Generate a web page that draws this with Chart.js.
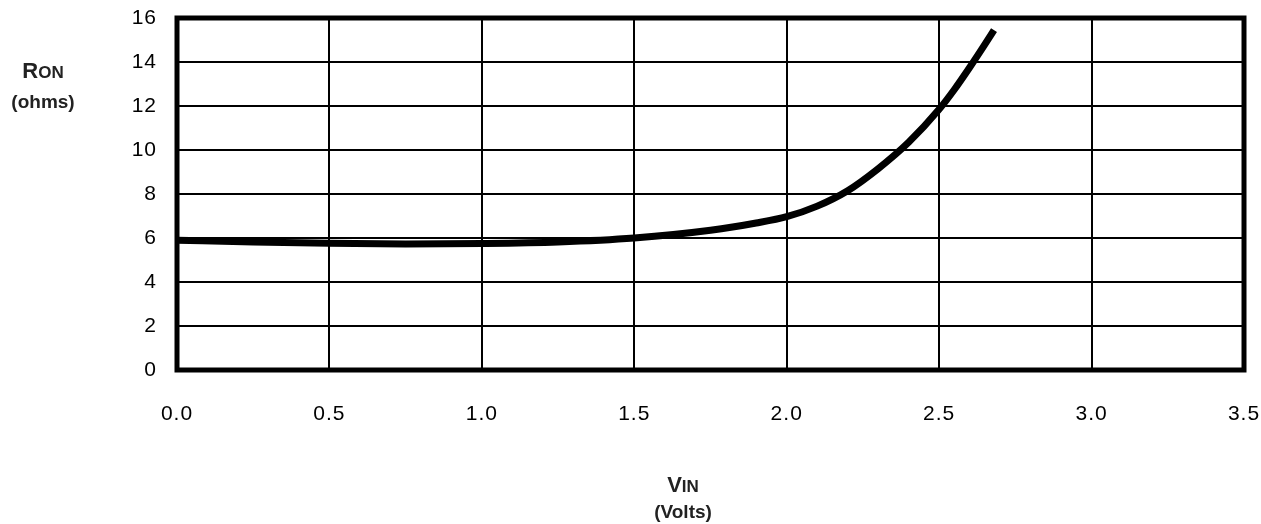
<!DOCTYPE html>
<html>
<head>
<meta charset="utf-8">
<script src="https://cdn.jsdelivr.net/npm/chart.js@4"></script>
<style>
  html, body { margin: 0; padding: 0; background: #fff; }
  #wrap { width: 1261px; height: 524px; }
</style>
</head>
<body>
<div id="wrap"><canvas id="chart"></canvas></div>
<script>
// Ron vs Vin
const vinVolts = [0, 0.25, 0.5, 0.75, 1.0, 1.25, 1.5, 1.75, 1.9, 2.0, 2.1, 2.2, 2.3, 2.4, 2.5, 2.55, 2.6, 2.65, 2.68];
const ronOhms  = [5.9, 5.82, 5.76, 5.73, 5.75, 5.82, 6.0, 6.35, 6.68, 6.97, 7.45, 8.15, 9.15, 10.35, 11.85, 12.75, 13.75, 14.8, 15.45];
const xTicks = [0, 0.5, 1.0, 1.5, 2.0, 2.5, 3.0, 3.5];
const yTicks = [0, 2, 4, 6, 8, 10, 12, 14, 16];

const TICK_FONT = { family: '"Liberation Sans", Arial, sans-serif', size: 21 };
const TITLE_FAMILY = '"Liberation Sans Narrow", "Liberation Sans", Arial, sans-serif';

function setSpacing(chart, v) {
  if ("letterSpacing" in chart.ctx) chart.ctx.letterSpacing = v;
}

// R<sub-caps>ON и V<sub-caps>IN: первая буква крупнее
function drawCapsTitle(ctx, big, small, cx, baseline) {
  ctx.font = "bold 22px " + TITLE_FAMILY;
  const w1 = ctx.measureText(big).width;
  ctx.font = "bold 17px " + TITLE_FAMILY;
  const w2 = ctx.measureText(small).width;
  let x = cx - (w1 + w2) / 2;
  ctx.textAlign = "left";
  ctx.textBaseline = "alphabetic";
  ctx.font = "bold 22px " + TITLE_FAMILY;
  ctx.fillText(big, x, baseline);
  ctx.font = "bold 17px " + TITLE_FAMILY;
  ctx.fillText(small, x + w1, baseline);
}

const framePlugin = {
  id: "frame",
  beforeLayout(chart) { setSpacing(chart, "1px"); },
  beforeDraw(chart) { setSpacing(chart, "1px"); },
  afterDraw(chart) {
    const { ctx, chartArea: a } = chart;
    ctx.save();
    setSpacing(chart, "0px");
    ctx.strokeStyle = "#000";
    ctx.lineWidth = 5;
    ctx.strokeRect(a.left, a.top, a.right - a.left, a.bottom - a.top);

    ctx.fillStyle = "#222";
    drawCapsTitle(ctx, "R", "ON", 43, 78);
    ctx.font = "bold 19px " + TITLE_FAMILY;
    ctx.textAlign = "center";
    ctx.fillText("(ohms)", 43, 108);

    drawCapsTitle(ctx, "V", "IN", 683, 492);
    ctx.font = "bold 19px " + TITLE_FAMILY;
    ctx.textAlign = "center";
    ctx.fillText("(Volts)", 683, 518);
    ctx.restore();
  },
};

function noPad(s) {
  s.paddingTop = 0; s.paddingBottom = 0; s.paddingLeft = 0; s.paddingRight = 0;
}

new Chart(document.getElementById("chart"), {
  type: "line",
  data: {
    datasets: [{
      data: vinVolts.map((v, i) => ({ x: v, y: ronOhms[i] })),
      borderColor: "#000",
      borderWidth: 7,
      borderCapStyle: "butt",
      pointRadius: 0,
      cubicInterpolationMode: "monotone",
      fill: false,
    }],
  },
  options: {
    responsive: true,
    maintainAspectRatio: false,
    animation: false,
    layout: { padding: { top: 18, right: 17, left: 0, bottom: 0 } },
    plugins: { legend: { display: false }, tooltip: { enabled: false } },
    scales: {
      x: {
        type: "linear",
        min: 0, max: 3.5,
        afterBuildTicks: (s) => { s.ticks = xTicks.map((v) => ({ value: v })); },
        afterFit: (s) => { s.height = 154; noPad(s); },
        ticks: { color: "#000", font: TICK_FONT, padding: 32, callback: (v) => v.toFixed(1) },
        grid: { color: "#000", lineWidth: 2, drawTicks: false },
        border: { display: false },
      },
      y: {
        min: 0, max: 16,
        afterBuildTicks: (s) => { s.ticks = yTicks.map((v) => ({ value: v })); },
        afterFit: (s) => { s.width = 177; noPad(s); },
        ticks: { color: "#000", font: TICK_FONT, padding: 20 },
        grid: { color: "#000", lineWidth: 2, drawTicks: false },
        border: { display: false },
      },
    },
  },
  plugins: [framePlugin],
});
</script>
</body>
</html>
